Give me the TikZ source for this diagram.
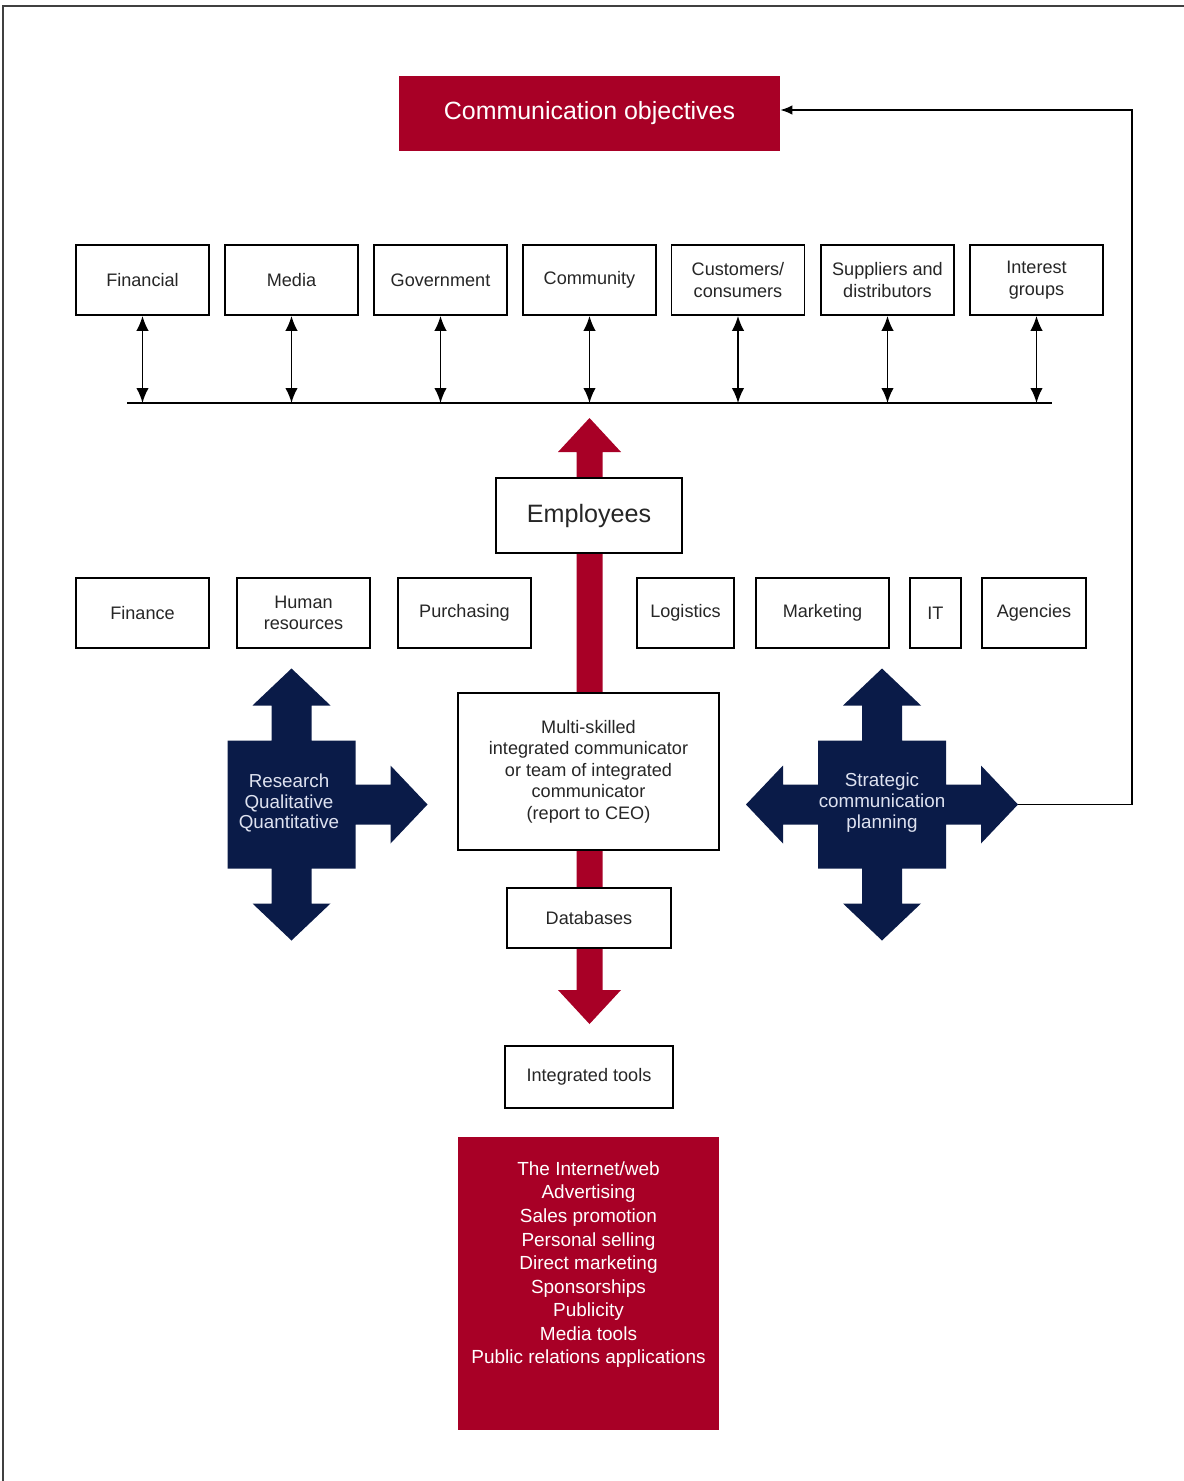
\documentclass[tikz,border=0pt]{standalone}
\usepackage{fontspec}
\setmainfont{Liberation Sans}
\usepackage{tikz}
\usetikzlibrary{arrows.meta, positioning, calc}
\definecolor{crim}{RGB}{168,0,38}
\definecolor{navy}{RGB}{10,27,72}
\definecolor{pale}{RGB}{222,226,240}

\begin{document}
\begin{tikzpicture}[
  x=0.2mm, y=-0.2mm,
  font=\fontsize{10.3}{12.2}\selectfont,
  every node/.style={align=center},
  box/.style={draw, line width=1pt, fill=white, text=black!85,
              minimum height=14mm, minimum width=26.6mm, inner sep=2pt},
  redbox/.style={fill=crim, text=white, inner sep=0pt},
  arr/.style={-{Latex[length=2.4mm,width=1.9mm]}, line width=0.9pt},
  darr/.style={{Latex[length=3mm,width=2.5mm]}-{Latex[length=3mm,width=2.5mm]}, line width=1pt},
  crosslab/.style={text=pale, font=\fontsize{10.7}{11.9}\selectfont}
]
\useasboundingbox (0,0) rectangle (1184,1481);
\draw[line width=1.7pt, black!75] (3,1481) -- (3,6) -- (1184,6);

% big red arrow behind the middle column
\fill[crim] (576.5,990) -- (576.5,452) -- (558,452) -- (589.5,418) -- (621,452)
  -- (602.5,452) -- (602.5,990) -- (621,990) -- (589.5,1024) -- (558,990) -- cycle;

\node[redbox, minimum width=76.2mm, minimum height=15mm,
      font=\fontsize{14.2}{17}\selectfont] (obj) at (589.5,113.5) {Communication objectives};

% stakeholders
\node[box] (fin)   at (142.5,280) {Financial};
\node[box] (media) at (291.5,280) {Media};
\node[box] (gov)   at (440.5,280) {Government};
\node[box] (comty) at (589.5,280) {Community};
\node[box] (cust)  at (738,280)   {Customers/\\consumers};
\node[box] (supp)  at (887.5,280) {Suppliers and\\distributors};
\node[box] (intg)  at (1036.5,280) {Interest\\groups};

\coordinate (busL) at (127,403);
\coordinate (busR) at (1052,403);
\draw[line width=1pt] (busL) -- (busR);
\draw[darr] (fin.south)   -- (fin.south |- busL);
\draw[darr] (media.south) -- (media.south |- busL);
\draw[darr] (gov.south)   -- (gov.south |- busL);
\draw[darr] (comty.south) -- (comty.south |- busL);
\draw[darr] (cust.south)  -- (cust.south |- busL);
\draw[darr] (supp.south)  -- (supp.south |- busL);
\draw[darr] (intg.south)  -- (intg.south |- busL);

\node[box, minimum width=37.2mm, minimum height=15mm,
      font=\fontsize{14.3}{17}\selectfont] (emp) at (589,515.5) {Employees};

% departments
\node[box] (finance) at (142.5,613) {Finance};
\node[box] (hr)      at (303.5,613) {Human\\resources};
\node[box] (purch)   at (464.5,613) {Purchasing};
\node[box, minimum width=19.4mm] (logi) at (685.5,613) {Logistics};
\node[box] (mkt)     at (822.5,613) {Marketing};
\node[box, minimum width=10.2mm] (it)   at (935.5,613) {IT};
\node[box, minimum width=20.8mm] (agen) at (1034,613) {Agencies};

\node[box, minimum width=52.2mm, minimum height=31.4mm] (icomm) at (588.5,771.5)
  {Multi-skilled\\integrated communicator\\or team of integrated\\communicator\\(report to CEO)};
\node[box, minimum width=32.8mm, minimum height=12mm] (db) at (589,918) {Databases};
\node[box, minimum width=33.6mm, minimum height=12.4mm] (tools) at (589,1077) {Integrated tools};

\node[redbox, font=\fontsize{10.8}{13.4}\selectfont] (tlist) at (588.5,1283.5)
  {\parbox[c][58.6mm][t]{52.2mm}{\centering\vspace*{14pt}The Internet/web\\Advertising\\Sales promotion\\
   Personal selling\\Direct marketing\\Sponsorships\\Publicity\\Media tools\\Public relations applications}};

% research cross (no left arm)
\begin{scope}[shift={(291.5,804.5)}]
\fill[navy] (0,-136) -- (39,-99) -- (20,-99) -- (20,-64) -- (64,-64) -- (64,-20) -- (99,-20)
  -- (99,-39) -- (136,0) -- (99,39) -- (99,20) -- (64,20) -- (64,64) -- (20,64) -- (20,99)
  -- (39,99) -- (0,136) -- (-39,99) -- (-20,99) -- (-20,64) -- (-64,64) -- (-64,-64)
  -- (-20,-64) -- (-20,-99) -- (-39,-99) -- cycle;
\end{scope}
\node[crosslab] (research) at (289,803) {Research\\Qualitative\\Quantitative};

% planning cross
\begin{scope}[shift={(882,804.5)}]
\fill[navy] (0,-136) -- (39,-99) -- (20,-99) -- (20,-64) -- (64,-64) -- (64,-20) -- (99,-20)
  -- (99,-39) -- (136,0) -- (99,39) -- (99,20) -- (64,20) -- (64,64) -- (20,64) -- (20,99)
  -- (39,99) -- (0,136) -- (-39,99) -- (-20,99) -- (-20,64) -- (-64,64) -- (-64,20)
  -- (-99,20) -- (-99,39) -- (-136,0) -- (-99,-39) -- (-99,-20) -- (-64,-20) -- (-64,-64)
  -- (-20,-64) -- (-20,-99) -- (-39,-99) -- cycle;
\end{scope}
\node[crosslab] (strat) at (882,803) {Strategic\\communication\\planning};

\coordinate (stratR) at (1018,804.5);
\draw[arr] (stratR) -- ++(114,0) |- ([yshift=0.7mm]obj.east);
\end{tikzpicture}
\end{document}
